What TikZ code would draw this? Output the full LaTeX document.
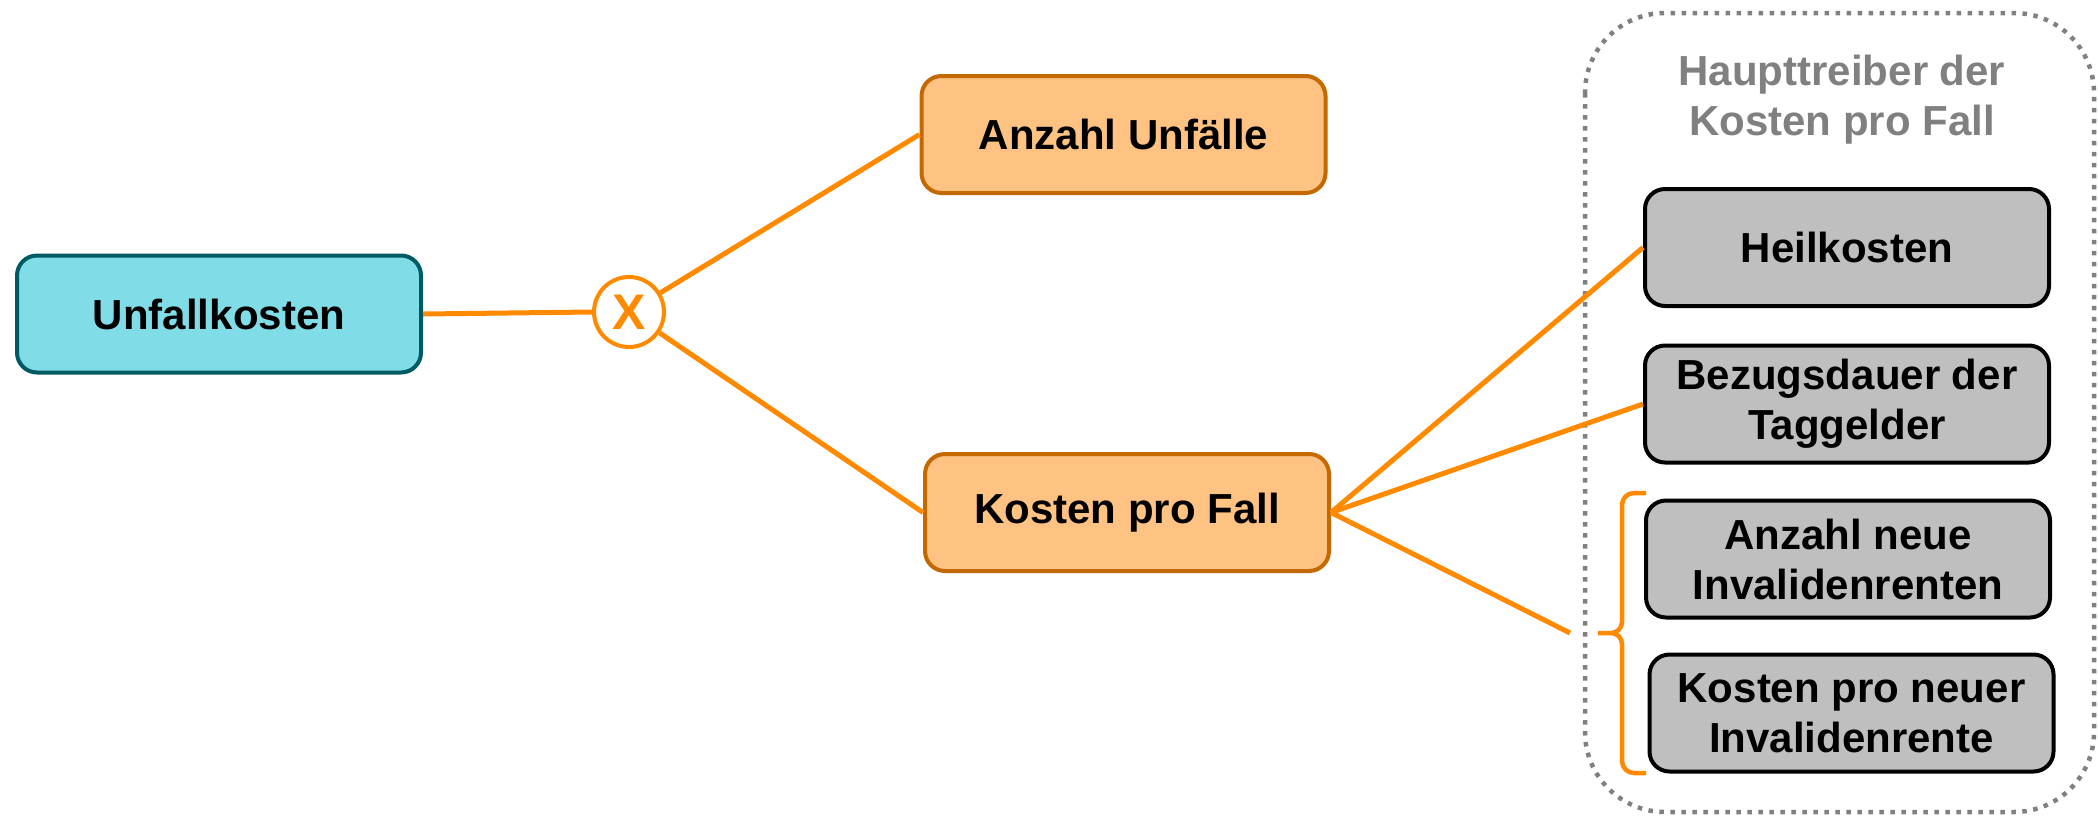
\documentclass[tikz,border=0pt]{standalone}
\usepackage{fontspec}
\setmainfont{Liberation Sans}
\definecolor{cyanfill}{HTML}{80DDE8}
\definecolor{cyanline}{HTML}{005A64}
\definecolor{orfill}{HTML}{FEC283}
\definecolor{orline}{HTML}{C46800}
\definecolor{link}{HTML}{FF8A00}
\definecolor{grayfill}{HTML}{BFBFBF}
\definecolor{titlegray}{HTML}{808080}
\tikzset{
  box/.style={draw, line width=4pt, rounded corners=20pt, minimum width=404pt,
    minimum height=117pt, align=center, inner sep=0pt,
    font=\fontsize{42}{50}\selectfont\bfseries},
  topbox/.style={box, fill=cyanfill, draw=cyanline},
  midbox/.style={box, fill=orfill, draw=orline},
  driver/.style={box, fill=grayfill, draw=black},
  link/.style={draw=link, line width=5pt},
  brace/.style={draw=link, line width=4.5pt},
  frame/.style={draw=titlegray, line width=4.5pt, dash pattern=on 4.5pt off 6.5pt,
    rounded corners=80pt},
}
\begin{document}
\begin{tikzpicture}[x=1pt,y=-1pt]
\useasboundingbox (0,0) rectangle (2098,815);

% frame around the cost drivers
\draw[frame] (1585,13) rectangle (2094,812);
\node[text=titlegray, align=center, font=\fontsize{42}{50}\selectfont\bfseries]
  (title) at (1842,100) {Haupttreiber der\\Kosten pro Fall};

% main tree
\node[topbox] (unfall) at (219,314) {Unfallkosten};
\node[circle, draw=link, fill=white, line width=4pt, minimum size=70pt, inner sep=0pt,
  text=link, font=\fontsize{50}{50}\selectfont\bfseries] (times) at (629,312) {X};
\node[midbox] (anzahl) at (1123.5,134.5) {Anzahl Unfälle};
\node[midbox] (kpf) at (1127,512.5) {Kosten pro Fall};

% drivers
\node[driver] (heil) at (1847,247.5) {Heilkosten};
\node[driver] (bezug) at (1847,404) {Bezugsdauer der\\Taggelder};
\node[driver] (neue) at (1848,559) {Anzahl neue\\Invalidenrenten};
\node[driver] (kneue) at (1851.5,713) {Kosten pro neuer\\Invalidenrente};

% connectors
\draw[link] (unfall.east) -- (times.west);
\draw[link] (times) -- (anzahl.west);
\draw[link] (times) -- (kpf.west);
\coordinate (tip) at (1570,633);
\draw[link] (kpf.east) -- (heil.west);
\draw[link] (kpf.east) -- (bezug.west);
\draw[link] (kpf.east) -- (tip);

% brace grouping the disability pensions
\draw[brace, line join=round] (1646,493) -- (1634,493) to[out=180,in=90] (1622,505)
  -- (1622,622) to[out=-90,in=0] (1611,633) -- (1598,633);
\draw[brace, line join=round] (1611,633) to[out=0,in=90] (1622,644)
  -- (1622,761) to[out=-90,in=180] (1634,773) -- (1646,773);
\end{tikzpicture}
\end{document}
